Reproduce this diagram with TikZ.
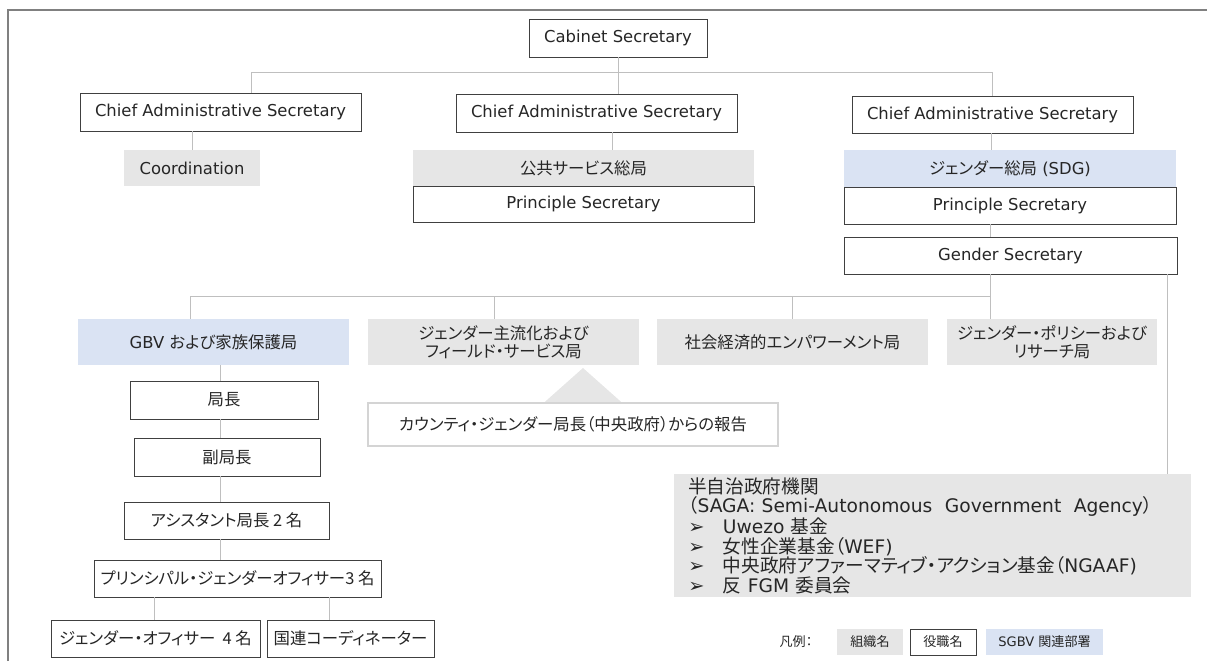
\documentclass[tikz,border=0pt]{standalone}
\usepackage{fontspec}
\setmainfont{DejaVu Sans}
\newfontfamily\jp{Noto Sans CJK JP}[RawFeature=+palt]
\definecolor{orgfill}{HTML}{E6E6E6}
\definecolor{sgfill}{HTML}{DAE3F3}
\definecolor{connc}{HTML}{BFBFBF}
\definecolor{posline}{HTML}{404040}
\definecolor{ctyline}{HTML}{D4D4D4}
\definecolor{framec}{HTML}{808080}
\newcommand\fmain{\fontsize{12.3}{13.6}\selectfont}
\newcommand\fsaga{\fontsize{14}{14.6}\selectfont}
\newcommand\flg{\fontsize{9.8}{11}\selectfont}
\newcommand\blt{\makebox[26pt][l]{\fontsize{14.5}{14}\selectfont ➢}}
\newcommand\bx[7]{\node[#6, minimum width={(#4-#2)*0.75pt}, minimum height={(#5-#3)*0.75pt}] (#1) at ({(#2+#4)/2},{(#3+#5)/2}) {#7};}
\tikzset{
  basebox/.style={inner sep=0pt, font=\fmain, align=center, text=black!85},
  posbox/.style={basebox, draw=posline, fill=white, line width=0.6pt},
  orgbox/.style={basebox, fill=orgfill},
  sgbox/.style={basebox, fill=sgfill},
  ctybox/.style={basebox, draw=ctyline, fill=white, line width=0.8pt},
  conn/.style={draw=connc, line width=0.7pt},
}
\begin{document}
\begin{tikzpicture}[x=0.75pt,y=-0.75pt]
\useasboundingbox (0,0) rectangle (1207,661);
% frame
\draw[framec, line width=1.2pt] (8,661) -- (8,10) -- (1207,10);
% top
\bx{cab}{529}{19}{707}{57}{posbox}{Cabinet Secretary}
\bx{cas1}{80}{93}{361}{131}{posbox}{Chief Administrative Secretary}
\bx{cas2}{456}{94}{737}{132}{posbox}{Chief Administrative Secretary}
\bx{cas3}{852}{96}{1133}{133}{posbox}{Chief Administrative Secretary}
\bx{coord}{124}{150}{260}{186}{orgbox}{Coordination}
\bx{kokyo}{413}{150}{754}{186}{orgbox}{\jp 公共サービス総局}
\bx{ps2}{413}{186}{754}{222}{posbox}{Principle Secretary}
\bx{sdg}{844}{150}{1176}{187}{sgbox}{{\jp ジェンダー総局} (SDG)}
\bx{ps3}{844}{187}{1176}{224}{posbox}{Principle Secretary}
\bx{gen}{844}{237}{1177}{274}{posbox}{Gender Secretary}
% departments
\bx{gbv}{78}{319}{349}{365}{sgbox}{GBV {\jp および家族保護局}}
\bx{main}{368}{319}{639}{365}{orgbox}{{\jp ジェンダー主流化および}\\{\jp フィールド・サービス局}}
\bx{soc}{657}{319}{928}{365}{orgbox}{\jp 社会経済的エンパワーメント局}
\bx{pol}{947}{319}{1157}{365}{orgbox}{{\jp ジェンダー・ポリシーおよび}\\{\jp リサーチ局}}
% triangle + county
\fill[orgfill] (583,368) -- (628,408) -- (538,408) -- cycle;
\bx{cty}{368}{403}{778}{446}{ctybox}{\jp カウンティ・ジェンダー局長（中央政府）からの報告}
% GBV column
\bx{kyoku}{130}{381}{318}{419}{posbox}{\jp 局長}
\bx{fuku}{134}{438}{320}{476}{posbox}{\jp 副局長}
\bx{asst}{124}{502}{329}{539}{posbox}{\jp アシスタント局長 2 名}
\bx{prin}{94}{560}{381}{597}{posbox}{\jp プリンシパル・ジェンダーオフィサー3 名}
\bx{off}{51}{620}{260}{657}{posbox}{\jp ジェンダー・オフィサー\ \ 4 名}
\bx{un}{267}{620}{434}{657}{posbox}{\jp 国連コーディネーター}
% SAGA
\node[basebox, fill=orgfill, align=left, anchor=north west, text width={(1191-674-28)*0.75pt}, inner xsep={14*0.75pt}, minimum height={(597-474)*0.75pt}, font=\fsaga] (saga) at (674,474) {%
{\jp 半自治政府機関}\\
{\jp （}SAGA: Semi-Autonomous\ \ Government\ \ Agency{\jp ）}\\
\blt Uwezo {\jp 基金}\\
\blt{\jp 女性企業基金（}WEF)\\
\blt{\jp 中央政府アファーマティブ・アクション基金（}NGAAF)\\
\blt{\jp 反} FGM {\jp 委員会}};
% legend
\node[basebox, font=\flg] (lgl) at (796,642) {\jp 凡例：};
\bx{lg1}{837}{629}{903}{655}{orgbox, font=\flg}{\jp 組織名}
\bx{lg2}{910}{629}{976}{655}{posbox, font=\flg}{\jp 役職名}
\bx{lg3}{986}{629}{1103}{655}{sgbox, font=\flg}{SGBV {\jp 関連部署}}
% connectors
\coordinate (b1l) at (251,72);
\coordinate (b1r) at (992,72);
\draw[conn] (cab.south) -- (cab.south |- cas2.north);
\draw[conn] (cas1.north -| b1l) -- (b1l) -- (b1r) -- (cas3.north -| b1r);
\draw[conn] (cas1.south -| coord.north) -- (coord.north);
\coordinate (c2) at (612,0);
\draw[conn] (cas2.south -| c2) -- (kokyo.north -| c2);
\coordinate (c3) at (991,0);
\draw[conn] (cas3.south -| c3) -- (sdg.north -| c3);
\coordinate (c4) at (990,0);
\draw[conn] (ps3.south -| c4) -- (gen.north -| c4);
\draw[conn] (gen.south -| c4) -- (pol.north -| c4);
\coordinate (b2l) at (190,296);
\draw[conn] (gbv.north -| b2l) -- (b2l) -- (b2l -| c4);
\coordinate (c5) at (494,0);
\draw[conn] (b2l -| c5) -- (main.north -| c5);
\draw[conn] (b2l -| soc.north) -- (soc.north);
\coordinate (c6) at (1167,0);
\draw[conn] (gen.south -| c6) -- (saga.north -| c6);
\coordinate (c7) at (220,0);
\draw[conn] (gbv.south -| c7) -- (kyoku.north -| c7);
\draw[conn] (kyoku.south -| c7) -- (fuku.north -| c7);
\draw[conn] (fuku.south -| c7) -- (asst.north -| c7);
\draw[conn] (asst.south -| c7) -- (prin.north -| c7);
\coordinate (c8) at (154,0);
\coordinate (c9) at (329,0);
\draw[conn] (prin.south -| c8) -- (off.north -| c8);
\draw[conn] (prin.south -| c9) -- (un.north -| c9);
\end{tikzpicture}
\end{document}
